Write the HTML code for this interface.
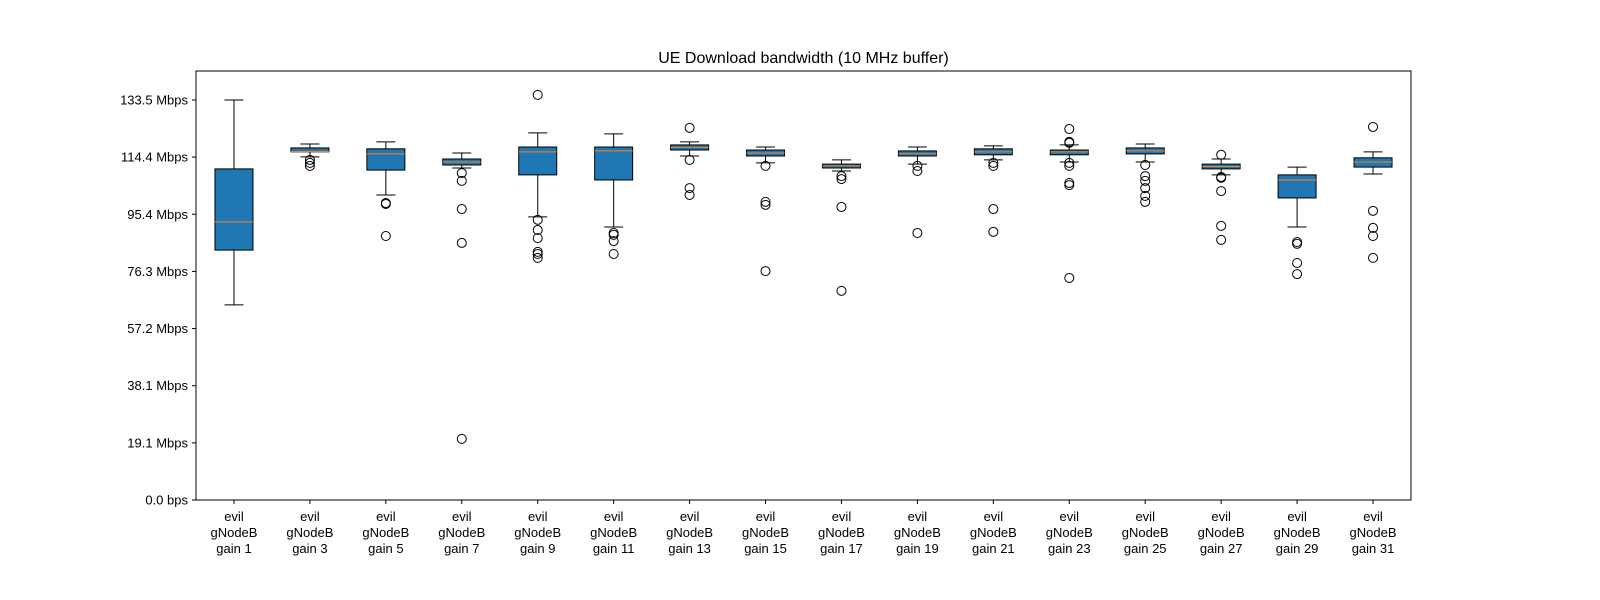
<!DOCTYPE html>
<html><head><meta charset="utf-8"><style>
body{margin:0;background:#fff;}
svg{display:block;font-family:"Liberation Sans","DejaVu Sans",sans-serif;}
</style></head><body>
<svg id="chart" width="1600" height="600" viewBox="0 0 1600 600"></svg>
<script>
const categories = [1,3,5,7,9,11,13,15,17,19,21,23,25,27,29,31];
const whiskerLow  = [65.1,114.5,101.8,110.8,94.5,91.1,114.8,112.5,109.8,112.1,113.5,112.8,112.8,108.5,91.1,108.8];
const q1Values    = [83.4,116.2,110.1,111.8,108.5,106.8,116.8,114.8,110.8,114.8,115.2,115.2,115.5,110.5,100.8,111.1];
const medians     = [92.8,116.3,115.5,112.8,116.2,116.5,117.7,115.8,111.5,115.5,116.2,116.2,116.5,111.3,106.8,112.8];
const q3Values    = [110.5,117.5,117.2,113.8,117.8,117.8,118.5,116.8,112.1,116.5,117.2,116.8,117.5,112.1,108.5,114.2];
const whiskerHigh = [133.5,118.8,119.5,115.8,122.5,122.2,119.5,117.8,113.5,117.8,118.2,118.5,118.8,113.8,111.1,116.2];
const outliers = [
  [],
  [113.5,112.5,111.5],
  [99.1,98.8,88.1],
  [109.1,106.5,97.1,85.8,20.4],
  [135.2,93.5,90.1,87.4,82.8,82.1,80.8],
  [89.1,88.5,86.4,82.1],
  [124.2,113.5,104.1,101.8],
  [111.5,99.5,98.5,76.4],
  [108.1,107.1,97.8,69.8],
  [111.5,109.8,89.1],
  [112.5,111.5,97.1,89.5],
  [123.8,119.5,119.2,112.5,111.5,105.8,105.1,74.1],
  [111.8,108.1,106.5,104.1,101.5,99.5],
  [115.2,107.8,107.5,103.1,91.5,86.8],
  [86.1,85.5,79.1,75.4],
  [124.5,96.5,90.8,88.1,80.8]
];
const tickValues = [0,19.07,38.14,57.21,76.29,95.36,114.43,133.5];
const tickLabels = ["0.0 bps","19.1 Mbps","38.1 Mbps","57.2 Mbps","76.3 Mbps","95.4 Mbps","114.4 Mbps","133.5 Mbps"];

const NS="http://www.w3.org/2000/svg";
const svg=document.getElementById('chart');
const L=196,R=1411,T=71,B=500;
const yMax=143.17;
function y(v){return B-(v/yMax)*(B-T);}
function x(i){return L+(i+0.5)*(R-L)/categories.length;}
function el(tag,attrs,parent){const e=document.createElementNS(NS,tag);for(const k in attrs)e.setAttribute(k,attrs[k]);(parent||svg).appendChild(e);return e;}

const title=el('text',{x:(L+R)/2,y:63,'text-anchor':'middle','font-size':16,fill:'#000'});


title.textContent='UE Download bandwidth (10 MHz buffer)';

const yAxis=el('g',{});


tickValues.forEach((v,i)=>{
  const yy=y(v);
  el('line',{x1:L-4,x2:L,y1:yy,y2:yy,stroke:'#000','stroke-width':1},yAxis);
  const t=el('text',{x:L-8,y:yy+4.5,'text-anchor':'end','font-size':13,fill:'#000'},yAxis);
  
  
  t.textContent=tickLabels[i];
});

const bw=38,cw=19;
categories.forEach((c,i)=>{
  const cx=x(i);
  const g=el('g',{});
  
  
  el('line',{x1:cx,x2:cx,y1:y(whiskerLow[i]),y2:y(q1Values[i]),stroke:'#000','stroke-width':1},g);
  el('line',{x1:cx,x2:cx,y1:y(whiskerHigh[i]),y2:y(q3Values[i]),stroke:'#000','stroke-width':1},g);
  el('line',{x1:cx-cw/2,x2:cx+cw/2,y1:y(whiskerLow[i]),y2:y(whiskerLow[i]),stroke:'#000','stroke-width':1},g);
  el('line',{x1:cx-cw/2,x2:cx+cw/2,y1:y(whiskerHigh[i]),y2:y(whiskerHigh[i]),stroke:'#000','stroke-width':1},g);
  el('rect',{x:cx-bw/2,y:y(q3Values[i]),width:bw,height:Math.max(1,y(q1Values[i])-y(q3Values[i])),fill:'#1f77b4',stroke:'#000','stroke-width':1},g);
  el('line',{x1:cx-bw/2,x2:cx+bw/2,y1:y(medians[i]),y2:y(medians[i]),stroke:'#ff7f0e','stroke-width':1},g);
  outliers[i].forEach(o=>{
    const p=el('circle',{cx:cx,cy:y(o),r:4.5,fill:'none',stroke:'#000','stroke-width':1},g);
    
    
  });
  el('line',{x1:cx,x2:cx,y1:B,y2:B+4,stroke:'#000','stroke-width':1},g);
  const lab=el('text',{x:cx,'text-anchor':'middle','font-size':13,fill:'#000'});
  
  
  ['evil','gNodeB','gain '+c].forEach((s,k)=>{
    const ts=el('tspan',{x:cx,y:521+k*16},lab);ts.textContent=s;
  });
});

const frame=el('rect',{x:L,y:T,width:R-L,height:B-T,fill:'none',stroke:'#000','stroke-width':1});


</script>
</body></html>
